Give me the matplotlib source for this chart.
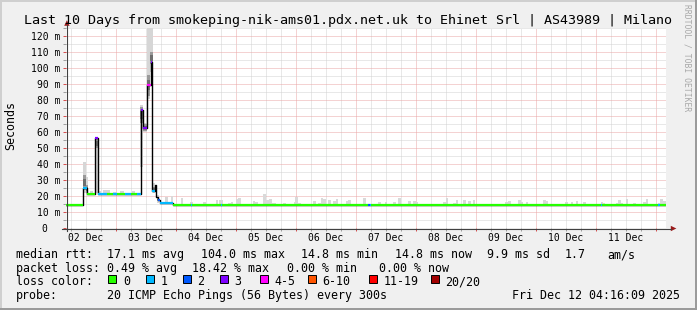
import matplotlib
matplotlib.use("Agg")
import matplotlib.pyplot as plt
import numpy as np
from matplotlib.lines import Line2D
from matplotlib.patches import Rectangle, Polygon

# ---------------- data ----------------
# time axis: hours after 02 Dec 2025 00:00 ; graph covers the last 10 days
T_START = 4.27
T_END = 244.27
day_labels = ["02 Dec", "03 Dec", "04 Dec", "05 Dec", "06 Dec",
              "07 Dec", "08 Dec", "09 Dec", "10 Dec", "11 Dec"]

# median rtt as steps: start hour, value in ms, lost pings (of 20; -1 = none drawn)
med_t = [4.27, 10.72, 12.52, 15.88, 16.8, 20.4, 23.04, 24.64, 27.84, 30.0, 32.64,
         34.12, 34.8, 36.52, 37.92, 38.64, 39.84, 40.24, 40.8, 41.72, 47.04,
         54.1, 54.5, 66.1, 66.5, 125.0, 125.8, 126.2, 218.2, 218.6, 240.9, 241.7]
med_ms = [14.8, 25.5, 21.5, 56.4, 21.5, 21.5, 21.5, 21.5, 21.5, 21.5, 21.5,
          74.0, 62.5, 89.5, 104.0, 23.3, 27.0, 19.8, 17.7, 16.0, 14.8,
          14.8, 14.8, 14.8, 14.8, 14.8, 14.8, 14.8, 14.8, 14.8, 14.8, 14.8]
med_loss = [0, 1, 0, 3, 1, 0, 1, 0, 1, 0, 1,
            3, 3, 4, 3, 1, -1, -1, 2, 1, 0,
            1, 0, 1, 0, 2, 1, 0, 1, 0, 1, 0]

# light smoke (ping spread) in the quiet period: start hour, end hour, max ms
smoke_t0 = [46.1, 50.1, 53.7, 58.9, 64.1, 65.3, 68.9, 70.1, 72.1, 73.0, 78.8, 79.7,
            82.8, 84.1, 85.3, 86.4, 90.8, 95.3, 95.8, 96.9, 102.8, 104.8, 106.0,
            107.0, 108.8, 110.8, 112.0, 116.0, 117.0, 122.8, 128.8, 131.7, 134.8,
            136.8, 140.8, 142.8, 144.0, 155.0, 156.1, 159.0, 160.1, 162.8, 164.8,
            166.8, 179.7, 180.8, 185.0, 186.1, 188.1, 194.8, 196.0, 203.7, 206.0,
            208.0, 210.8, 218.1, 219.0, 224.1, 225.0, 226.1, 228.0, 230.8, 235.0,
            236.1, 240.8, 241.7, 242.8]
smoke_t1 = [47.0, 50.9, 54.8, 60.1, 65.0, 66.8, 70.1, 70.9, 73.0, 74.1, 79.7, 81.0,
            84.1, 85.3, 86.4, 88.1, 92.1, 95.8, 96.9, 98.0, 104.1, 106.0, 107.0,
            108.1, 110.1, 112.0, 113.0, 117.0, 118.1, 124.1, 130.0, 132.6, 136.0,
            138.0, 142.0, 144.0, 144.9, 156.1, 156.9, 160.1, 160.9, 164.1, 166.1,
            167.8, 180.8, 182.0, 186.1, 186.8, 189.0, 196.0, 196.9, 204.8, 207.0,
            209.0, 212.0, 219.0, 219.8, 225.0, 226.1, 227.0, 228.9, 232.0, 236.1,
            236.9, 241.7, 242.8, 244.1]
smoke_hi = [20.2, 18.7, 16.2, 16.2, 17.7, 17.7, 15.8, 16.2, 18.3, 18.9, 17.2, 16.2,
            21.4, 17.7, 18.3, 15.8, 15.8, 16.2, 19.6, 15.8, 17.2, 15.8, 18.9,
            18.3, 17.7, 17.2, 18.3, 17.2, 17.7, 18.9, 16.2, 16.2, 16.2,
            18.9, 17.2, 17.2, 16.2, 16.2, 18.7, 15.8, 17.7, 17.7, 17.2,
            17.7, 16.2, 17.2, 17.7, 16.2, 16.2, 17.7, 17.2, 16.2, 16.2,
            17.2, 16.2, 16.2, 15.8, 15.8, 17.7, 15.8, 18.3, 15.8, 16.2,
            18.3, 15.8, 18.3, 17.2]

# heavy smoke around the spikes: start, end, min, max, dense core low/high (ms)
spike_t0 = [10.8, 12.12, 13.72, 15.84, 16.92, 18.92, 22.92, 25.72, 30.4,
            33.84, 34.8, 36.4, 37.72, 38.8, 40.4, 43.72]
spike_t1 = [12.12, 13.04, 15.04, 16.8, 18.24, 21.72, 24.52, 27.32, 31.72,
            34.8, 36.4, 37.72, 38.8, 39.84, 41.44, 44.8]
spike_lo = [22.0, 21.5, 21.5, 22.0, 21.5, 21.5, 21.5, 21.5, 21.5,
            38.5, 60.0, 81.0, 98.0, 22.0, 16.0, 16.0]
spike_hi = [41.6, 32.0, 23.3, 57.0, 23.3, 24.0, 23.0, 23.3, 23.5,
            77.0, 66.0, 130.0, 130.0, 28.5, 21.0, 19.4]
spike_clo = [24.0, 22.0, 21.5, 50.0, 21.5, 21.5, 21.5, 21.5, 21.5,
             66.0, 61.0, 83.0, 103.0, 23.0, 17.0, 16.0]
spike_chi = [33.0, 27.0, 21.5, 56.0, 21.5, 21.5, 21.5, 21.5, 21.5,
             76.0, 65.0, 96.0, 110.0, 26.0, 19.0, 16.0]

loss_labels = ["0", "1", "2", "3", "4-5", "6-10", "11-19", "20/20"]
loss_colors = ["#26ff00", "#00b8ff", "#0059ff", "#7e00ff",
               "#ff00ff", "#ff5500", "#ff0000", "#a10000"]
loss_upper = [0, 1, 2, 3, 5, 10, 19, 20]

rtt_avg, rtt_max, rtt_min, rtt_now, rtt_sd, am_s = 17.1, 104.0, 14.8, 14.8, 9.9, 1.7
loss_avg, loss_max, loss_min, loss_now = 0.49, 18.42, 0.00, 0.00
title = "Last 10 Days from smokeping-nik-ams01.pdx.net.uk to Ehinet Srl | AS43989 | Milano"
probe_text = "20 ICMP Echo Pings (56 Bytes) every 300s"
stamp = "Fri Dec 12 04:16:09 2025"

# ---------------- drawing ----------------
W, H = 697, 310
MONO = "DejaVu Sans Mono"
plt.rcParams["font.family"] = [MONO, "DejaVu Sans"]

fig = plt.figure(figsize=(W / 100, H / 100), dpi=100, facecolor="#F0F0F0")


def fx(px):
    return px / W


def fy(py):
    return 1 - py / H


L, R, T, B = 66.4, 666.4, 28.3, 228.3
ax = fig.add_axes([fx(L), fy(B), (R - L) / W, (B - T) / H])
ax.set_facecolor("white")
ax.set_xlim(T_START, T_END)
ax.set_ylim(0, 125)
for s in ax.spines.values():
    s.set_visible(False)

# grid
ax.set_xticks(np.arange(24, T_END, 24))
ax.set_xticks(np.arange(6, T_END, 6), minor=True)
ax.set_xticklabels([])
yt = np.arange(0, 121, 10)
ax.set_yticks(yt, labels=[("0  " if v == 0 else f"{v} m") for v in yt])
ax.set_yticks(np.arange(5, 126, 10), minor=True)
ax.set_axisbelow(True)
ax.grid(which="major", color="#EBA6A6", linestyle=(0, (1, 1)), lw=0.72)
ax.grid(which="minor", color="#D2D2D2", linestyle=(0, (1, 1)), lw=0.72)
ax.tick_params(axis="x", which="major", length=2.5, width=0.72, color="#D85050", direction="out")
ax.tick_params(axis="x", which="minor", length=2.5, width=0.72, color="#A0A0A0", direction="out")
ax.tick_params(axis="y", which="major", length=2, width=0.72, color="#D85050",
               direction="out", labelsize=7, pad=2.6)
ax.tick_params(axis="y", which="minor", length=2, width=0.72, color="#A0A0A0", direction="out")
for lab in ax.get_yticklabels():
    lab.set_family(MONO)

# light smoke
t_arr = np.array(med_t)
ms_arr = np.array(med_ms)
s0 = np.array(smoke_t0)
s1 = np.array(smoke_t1)
s_lo = ms_arr[np.searchsorted(t_arr, s0, side="right") - 1]
ax.bar(s0, np.array(smoke_hi) - s_lo, width=s1 - s0, bottom=s_lo, align="edge",
       color="#D9D9D9", lw=0, zorder=2)

# spike smoke
p0 = np.array(spike_t0)
p1 = np.array(spike_t1)
ax.bar(p0, np.array(spike_hi) - np.array(spike_lo), width=p1 - p0, bottom=spike_lo,
       align="edge", color="#D6D6D6", lw=0, zorder=2)
clo = np.array(spike_clo)
chi = np.array(spike_chi)
ax.bar(p0, chi - clo, width=p1 - p0, bottom=clo, align="edge",
       color="#9A9A9A", lw=0, zorder=2.1)
mid = (clo + chi) / 2
ax.bar(p0, (chi - clo) * 0.5, width=p1 - p0, bottom=mid - (chi - clo) * 0.25,
       align="edge", color="#6E6E6E", lw=0, zorder=2.2)

# median line (black steps) + loss-coloured segments
t_ext = med_t + [T_END]
ax.step(t_ext, med_ms + [med_ms[-1]], where="post", color="black", lw=1.0, zorder=3)


def loss_bin(n):
    for i, u in enumerate(loss_upper):
        if n <= u:
            return i
    return len(loss_upper) - 1


for i in range(len(med_t)):
    if med_loss[i] < 0:
        continue
    ax.hlines(med_ms[i], t_ext[i], t_ext[i + 1], colors=loss_colors[loss_bin(med_loss[i])],
              lw=1.6, zorder=4, capstyle="butt")

# x labels (centred at noon of each day)
for k, lab in enumerate(day_labels):
    ax.text(12 + 24 * k, -(240.7 - B) / (B - T), lab, transform=ax.get_xaxis_transform(),
            ha="center", va="baseline", fontsize=7, family=MONO)

# axes with arrows
AX = "#404040"
ARW = "#9B1B1B"
fig.add_artist(Line2D([fx(66.9), fx(66.9)], [fy(231), fy(25)], color=AX, lw=0.8))
fig.add_artist(Polygon([(fx(64.2), fy(25.8)), (fx(69.6), fy(25.8)), (fx(66.9), fy(20.2))],
                       closed=True, color=ARW, lw=0))
fig.add_artist(Line2D([fx(62), fx(671)], [fy(228.5), fy(228.5)], color=AX, lw=0.8))
fig.add_artist(Polygon([(fx(670.8), fy(225.8)), (fx(670.8), fy(231.2)), (fx(676.4), fy(228.5))],
                       closed=True, color=ARW, lw=0))

# texts
fig.text(fx(348.5), fy(24), title, ha="center", va="baseline", fontsize=9.6, family=MONO)
fig.text(fx(11), fy(126), "Seconds", rotation=90, ha="center", va="center",
         fontsize=8.4, family=MONO)
fig.text(fx(687.5), fy(58), "RRDTOOL / TOBI OETIKER", rotation=270, ha="center",
         va="center", fontsize=5.8, color="#A8A8A8", family=MONO)

FS = 8.4
y1, y2, y3, y4 = 258.0, 271.8, 285.4, 299.2
row1 = [("median rtt:", 16), (f"{rtt_avg:.1f} ms avg", 107.3), (f"{rtt_max:.1f} ms max", 201),
        (f"{rtt_min:.1f} ms min", 301), (f"{rtt_now:.1f} ms now", 395.5),
        (f"{rtt_sd:.1f} ms sd", 487), (f"{am_s:.1f}", 565), ("am/s", 607.7)]
row2 = [("packet loss:", 16), (f"{loss_avg:.2f} % avg", 107.3), (f"{loss_max:.2f} % max", 191.7),
        (f"{loss_min:.2f} % min", 287), (f"{loss_now:.2f} % now", 379.3)]
for txt, x in row1:
    fig.text(fx(x), fy(y1), txt, ha="left", va="baseline", fontsize=FS, family=MONO)
for txt, x in row2:
    fig.text(fx(x), fy(y2), txt, ha="left", va="baseline", fontsize=FS, family=MONO)

fig.text(fx(16), fy(y3), "loss color:", ha="left", va="baseline", fontsize=FS, family=MONO)
sq_x = [108.3, 145.7, 182.7, 219.7, 259.7, 307.7, 369.3, 430.7]
for lab, col, x in zip(loss_labels, loss_colors, sq_x):
    fig.add_artist(Rectangle((fx(x), fy(282.6)), 8 / W, 8 / H, facecolor=col,
                             edgecolor="black", lw=0.7))
    fig.text(fx(x + 14.8), fy(y3), lab, ha="left", va="baseline", fontsize=FS, family=MONO)

fig.text(fx(16), fy(y4), "probe:", ha="left", va="baseline", fontsize=FS, family=MONO)
fig.text(fx(107.3), fy(y4), probe_text, ha="left", va="baseline", fontsize=FS, family=MONO)
fig.text(fx(680.5), fy(y4), stamp, ha="right", va="baseline", fontsize=FS, family=MONO)

# 3-D frame
fig.add_artist(Rectangle((0, fy(2)), 1, 2 / H, color="#CFCFCF", lw=0))
fig.add_artist(Rectangle((0, 0), 2 / W, 1, color="#CFCFCF", lw=0))
fig.add_artist(Rectangle((0, 0), 1, 2 / H, color="#9B9B9B", lw=0))
fig.add_artist(Rectangle((fx(695), 0), 2 / W, 1, color="#9B9B9B", lw=0))

fig.savefig("out.png", dpi=100, facecolor=fig.get_facecolor())
